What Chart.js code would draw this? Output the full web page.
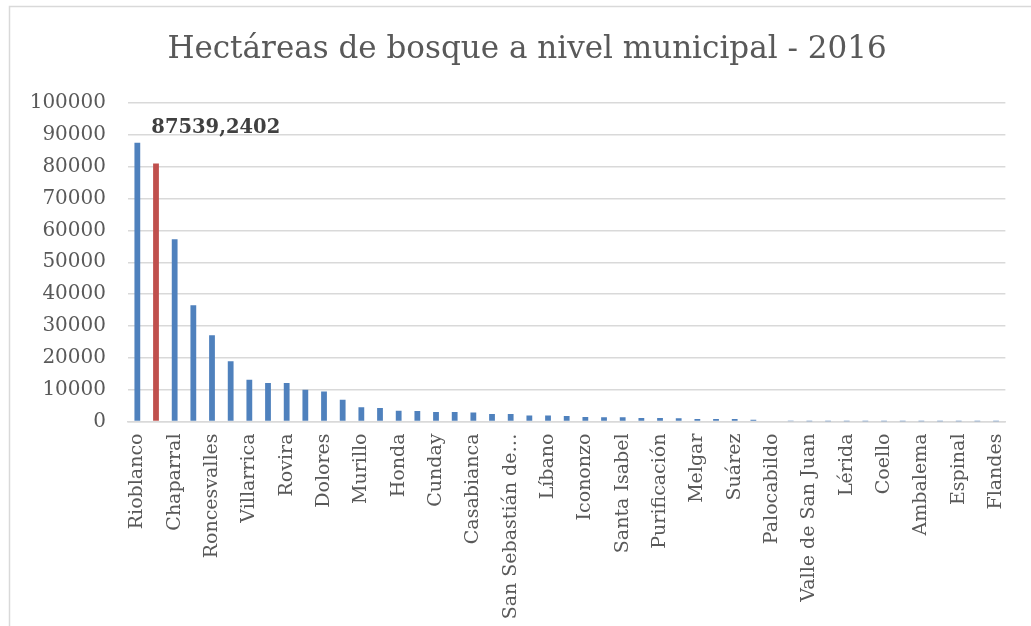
<!DOCTYPE html>
<html>
<head>
<meta charset="utf-8">
<script src="https://cdn.jsdelivr.net/npm/chart.js@4"></script>
<style>
  html, body { margin: 0; padding: 0; background: #ffffff; }
  #wrap { width: 1031px; height: 626px; }
</style>
</head>
<body>
<div id="wrap"><canvas id="forest-chart" width="1031" height="626"></canvas></div>
<script>
const titleText = "Hectáreas de bosque a nivel municipal - 2016";

const municipios = [
  "Rioblanco", "Planadas", "Chaparral", "Ataco", "Roncesvalles", "Ibagué",
  "Villarrica", "San Antonio", "Rovira", "Cajamarca", "Dolores", "Ortega",
  "Murillo", "Herveo", "Honda", "Anzoátegui", "Cunday", "Villahermosa",
  "Casabianca", "Fresno", "San Sebastián de Mariquita", "Prado", "Líbano",
  "Natagaima", "Icononzo", "Coyaima", "Santa Isabel", "Falan", "Purificación",
  "Alpujarra", "Melgar", "Carmen de Apicalá", "Suárez", "San Luis",
  "Palocabildo", "Armero", "Valle de San Juan", "Venadillo", "Lérida",
  "Alvarado", "Coello", "Guamo", "Ambalema", "Saldaña", "Espinal", "Piedras",
  "Flandes"
];

const hectareas = [
  87539.2402, 81000, 57200, 36500, 27100, 18900,
  13100, 12100, 12100, 10000, 9400, 6800,
  4500, 4200, 3400, 3300, 3000, 3000,
  2800, 2350, 2350, 1850, 1850,
  1750, 1450, 1300, 1300, 1100, 1100,
  1000, 800, 800, 800, 550,
  200, 60, 30, 20, 15,
  12, 10, 8, 6, 4, 3, 2,
  1
];

const highlighted = "Planadas";

const yTicks = [0, 10000, 20000, 30000, 40000, 50000, 60000, 70000, 80000, 90000, 100000];

const barColors = municipios.map(function(name) {
  return name === highlighted ? "#c0504d" : "#4f81bd";
});

// white background, light frame and the title
const framePlugin = {
  id: "frame",
  beforeDraw: function(chart) {
    const ctx = chart.ctx;
    ctx.save();
    ctx.fillStyle = "#ffffff";
    ctx.fillRect(0, 0, chart.width, chart.height);
    ctx.strokeStyle = "#d9d9d9";
    ctx.lineWidth = 1.5;
    ctx.strokeRect(9.5, 6.5, 1200, 800);

    ctx.font = "31px 'DejaVu Serif'";
    ctx.fillStyle = "#595959";
    ctx.textAlign = "center";
    ctx.textBaseline = "middle";
    ctx.fillText(titleText, 527, 50);
    ctx.restore();
  }
};

// value label of the first bar
const valueLabelPlugin = {
  id: "valueLabel",
  afterDatasetsDraw: function(chart) {
    const bar = chart.getDatasetMeta(0).data[0];
    const text = String(hectareas[0]).replace(".", ",");
    const ctx = chart.ctx;
    ctx.save();
    ctx.font = "bold 19.5px 'DejaVu Serif'";
    ctx.fillStyle = "#404040";
    ctx.textAlign = "left";
    ctx.textBaseline = "middle";
    ctx.fillText(text, bar.x + 14, bar.y - 15);
    ctx.restore();
  }
};

new Chart(document.getElementById("forest-chart"), {
  type: "bar",
  data: {
    labels: municipios,
    datasets: [
      {
        label: "Hectáreas",
        data: hectareas,
        backgroundColor: barColors,
        barPercentage: 0.62,
        categoryPercentage: 0.5
      }
    ]
  },
  options: {
    responsive: false,
    animation: false,
    layout: {
      padding: { left: 0, right: 15, top: 103, bottom: 0 }
    },
    plugins: {
      legend: { display: false },
      tooltip: { enabled: false },
      title: { display: false }
    },
    scales: {
      x: {
        grid: { display: false, drawTicks: false },
        border: { color: "#d9d9d9", width: 1.5 },
        afterFit: function(scale) {
          scale.height = 204.5;
        },
        ticks: {
          autoSkip: false,
          maxRotation: 90,
          minRotation: 90,
          padding: 12,
          color: "#595959",
          font: { family: "'DejaVu Serif'", size: 19 },
          callback: function(value, index) {
            if (index % 2 !== 0) {
              return "";
            }
            const name = municipios[index];
            if (name.length > 20) {
              return name.slice(0, 16) + "…";
            }
            return name;
          }
        }
      },
      y: {
        min: 0,
        max: 100000,
        afterFit: function(scale) {
          scale.width = 128;
        },
        afterBuildTicks: function(scale) {
          scale.ticks = yTicks.map(function(v) {
            return { value: v };
          });
        },
        grid: { color: "#d9d9d9", lineWidth: 1.5, drawTicks: false },
        border: { display: false },
        ticks: {
          padding: 22,
          color: "#595959",
          font: { family: "'DejaVu Serif'", size: 20 },
          callback: function(value) {
            return String(value);
          }
        }
      }
    }
  },
  plugins: [framePlugin, valueLabelPlugin]
});
</script>
</body>
</html>
